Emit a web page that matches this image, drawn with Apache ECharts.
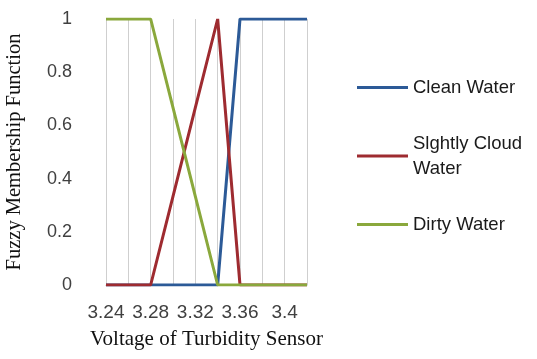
<!DOCTYPE html>
<html>
<head>
<meta charset="utf-8">
<script src="https://cdn.jsdelivr.net/npm/echarts@6/dist/echarts.min.js"></script>
<style>
  html, body { margin: 0; padding: 0; background: #fff; }
  #chart { width: 537px; height: 359px; }
</style>
</head>
<body>
<div id="chart"></div>
<script>
// voltage steps on the category axis (every other one is labelled)
const voltages = ['3.24', '3.26', '3.28', '3.3', '3.32', '3.34', '3.36', '3.38', '3.4', '3.42'];
const seriesNames = ['Clean Water', 'Slghtly Cloud\nWater', 'Dirty Water'];
const cleanWater = [0, 0, 0, 0, 0, 0, 1, 1, 1, 1];
const slightlyCloudWater = [0, 0, 0, 0.333, 0.667, 1, 0, 0, 0, 0];
const dirtyWater = [1, 1, 1, 0.667, 0.333, 0, 0, 0, 0, 0];
const colors = ['#2c5a97', '#9e2b30', '#8aa83c'];

const chart = echarts.init(document.getElementById('chart'));

const mkSeries = (name, data, color) => ({
  name: name,
  type: 'line',
  data: data,
  symbol: 'none',
  color: color,
  lineStyle: {width: 3, color: color},
  animation: false
});

chart.setOption({
  backgroundColor: '#fff',
  grid: {left: 106, right: 230, top: 19, bottom: 74},
  legend: {
    orient: 'vertical',
    left: 352,
    top: 70,
    icon: 'rect',
    itemWidth: 51,
    itemHeight: 3,
    itemGap: 31,
    data: seriesNames,
    textStyle: {
      fontFamily: 'Liberation Sans',
      fontSize: 18.5,
      color: '#1a1a1a',
      lineHeight: 25
    }
  },
  xAxis: {
    type: 'category',
    data: voltages,
    boundaryGap: false,
    name: 'Voltage of Turbidity Sensor',
    nameLocation: 'middle',
    nameGap: 44,
    nameTextStyle: {fontFamily: 'Liberation Serif', fontSize: 21, color: '#111'},
    axisLine: {lineStyle: {color: '#bfbfbf', width: 1}},
    axisTick: {show: false},
    axisLabel: {
      interval: 1,
      margin: 18,
      fontFamily: 'Liberation Sans',
      fontSize: 19,
      color: '#404040'
    },
    splitLine: {show: true, interval: 0, lineStyle: {color: '#cfcfcf', width: 1}}
  },
  yAxis: {
    type: 'value',
    min: 0,
    max: 1,
    interval: 0.2,
    name: 'Fuzzy Membership Function',
    nameLocation: 'middle',
    nameGap: 81,
    nameTextStyle: {fontFamily: 'Liberation Serif', fontSize: 20.5, color: '#111'},
    axisLine: {show: false},
    axisTick: {show: false},
    axisLabel: {
      margin: 34,
      fontFamily: 'Liberation Sans',
      fontSize: 18,
      color: '#404040'
    },
    splitLine: {show: false}
  },
  series: [
    mkSeries(seriesNames[0], cleanWater, colors[0]),
    mkSeries(seriesNames[1], slightlyCloudWater, colors[1]),
    mkSeries(seriesNames[2], dirtyWater, colors[2])
  ]
});
</script>
</body>
</html>
